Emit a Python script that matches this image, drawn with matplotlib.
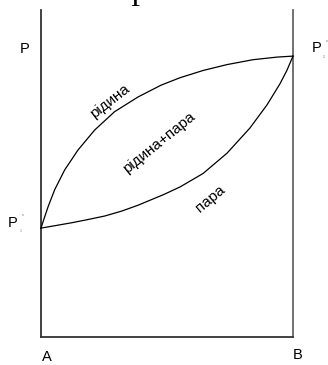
import numpy as np
import matplotlib
matplotlib.use("Agg")
import matplotlib.pyplot as plt

plt.rcParams['font.family'] = ['Liberation Sans', 'DejaVu Sans']

# Composition (mole fraction of B) and pressure (arbitrary units, 0..100)
x_liquid = [0.0, 0.010, 0.028, 0.054, 0.094, 0.147, 0.213, 0.292, 0.385,
            0.476, 0.552, 0.643, 0.738, 0.841, 0.937, 1.0]
p_liquid = [33.3, 35.7, 39.8, 45.0, 51.1, 57.2, 63.3, 68.9, 73.4,
            77.0, 79.3, 81.5, 83.3, 84.8, 85.6, 85.9]

x_vapour = [0.0, 0.060, 0.119, 0.185, 0.253, 0.320, 0.385, 0.488, 0.552,
            0.643, 0.738, 0.829, 0.897, 0.948, 0.975, 1.0]
p_vapour = [33.3, 34.1, 34.9, 35.9, 37.0, 38.5, 40.3, 43.6, 45.9,
            50.0, 56.2, 63.9, 71.0, 77.4, 81.4, 85.9]

p1 = p_liquid[0]
p2 = p_liquid[-1]

fig = plt.figure(figsize=(3.28, 3.65), dpi=100)
ax = fig.add_axes([0, 0, 1, 1])
ax.set_xlim(-41 / 252, 287 / 252)
ax.set_ylim(-28 / 3.27, 100 + 10 / 3.27)
ax.axis('off')

# frame: two pure-component axes and the composition axis
ax.plot([0, 0], [0, 100], color='#333333', lw=1.3)
ax.plot([1, 1], [0, 100], color='#666666', lw=1.3)
ax.plot([0, 1], [0, 0], color='#333333', lw=1.3)

ax.plot(x_liquid, p_liquid, color='black', lw=0.9)
ax.plot(x_vapour, p_vapour, color='black', lw=0.9)

fs = 10.5
ax.text(-0.063, 88.1, 'P', fontsize=fs, ha='center', va='center')
ax.text(-0.111, p1 + 1.5, 'P', fontsize=fs, ha='center', va='center')
ax.text(-0.072, p1 + 4.0, 'o', fontsize=2.5, ha='center', va='center', color='#777777')
ax.text(-0.080, p1 - 1.0, '1', fontsize=2.5, ha='center', va='center', color='#777777')
ax.text(1.095, p2 + 2.5, 'P', fontsize=fs, ha='center', va='center')
ax.text(1.135, p2 + 4.5, 'o', fontsize=2.5, ha='center', va='center', color='#777777')
ax.text(1.123, p2 - 0.3, '2', fontsize=2.5, ha='center', va='center', color='#777777')

ax.text(0.024, -6.1, 'A', fontsize=fs, ha='center', va='center')
ax.text(1.02, -5.5, 'B', fontsize=fs, ha='center', va='center')

# region labels along the curves
lfs = 11
ax.text(0.274, 72.2, 'рідина', fontsize=lfs, rotation=38,
        rotation_mode='anchor', ha='center', va='center')
ax.text(0.468, 59.3, 'рідина+пара', fontsize=lfs, rotation=39,
        rotation_mode='anchor', ha='center', va='center')
ax.text(0.671, 42.2, 'пара', fontsize=lfs, rotation=40,
        rotation_mode='anchor', ha='center', va='center')

# title runs off the top edge
ax.text(0.355, 100 + 4 / 3.27, 'Р', fontsize=20, family='Liberation Serif',
        ha='left', va='baseline')

fig.savefig('out.png', dpi=100)
